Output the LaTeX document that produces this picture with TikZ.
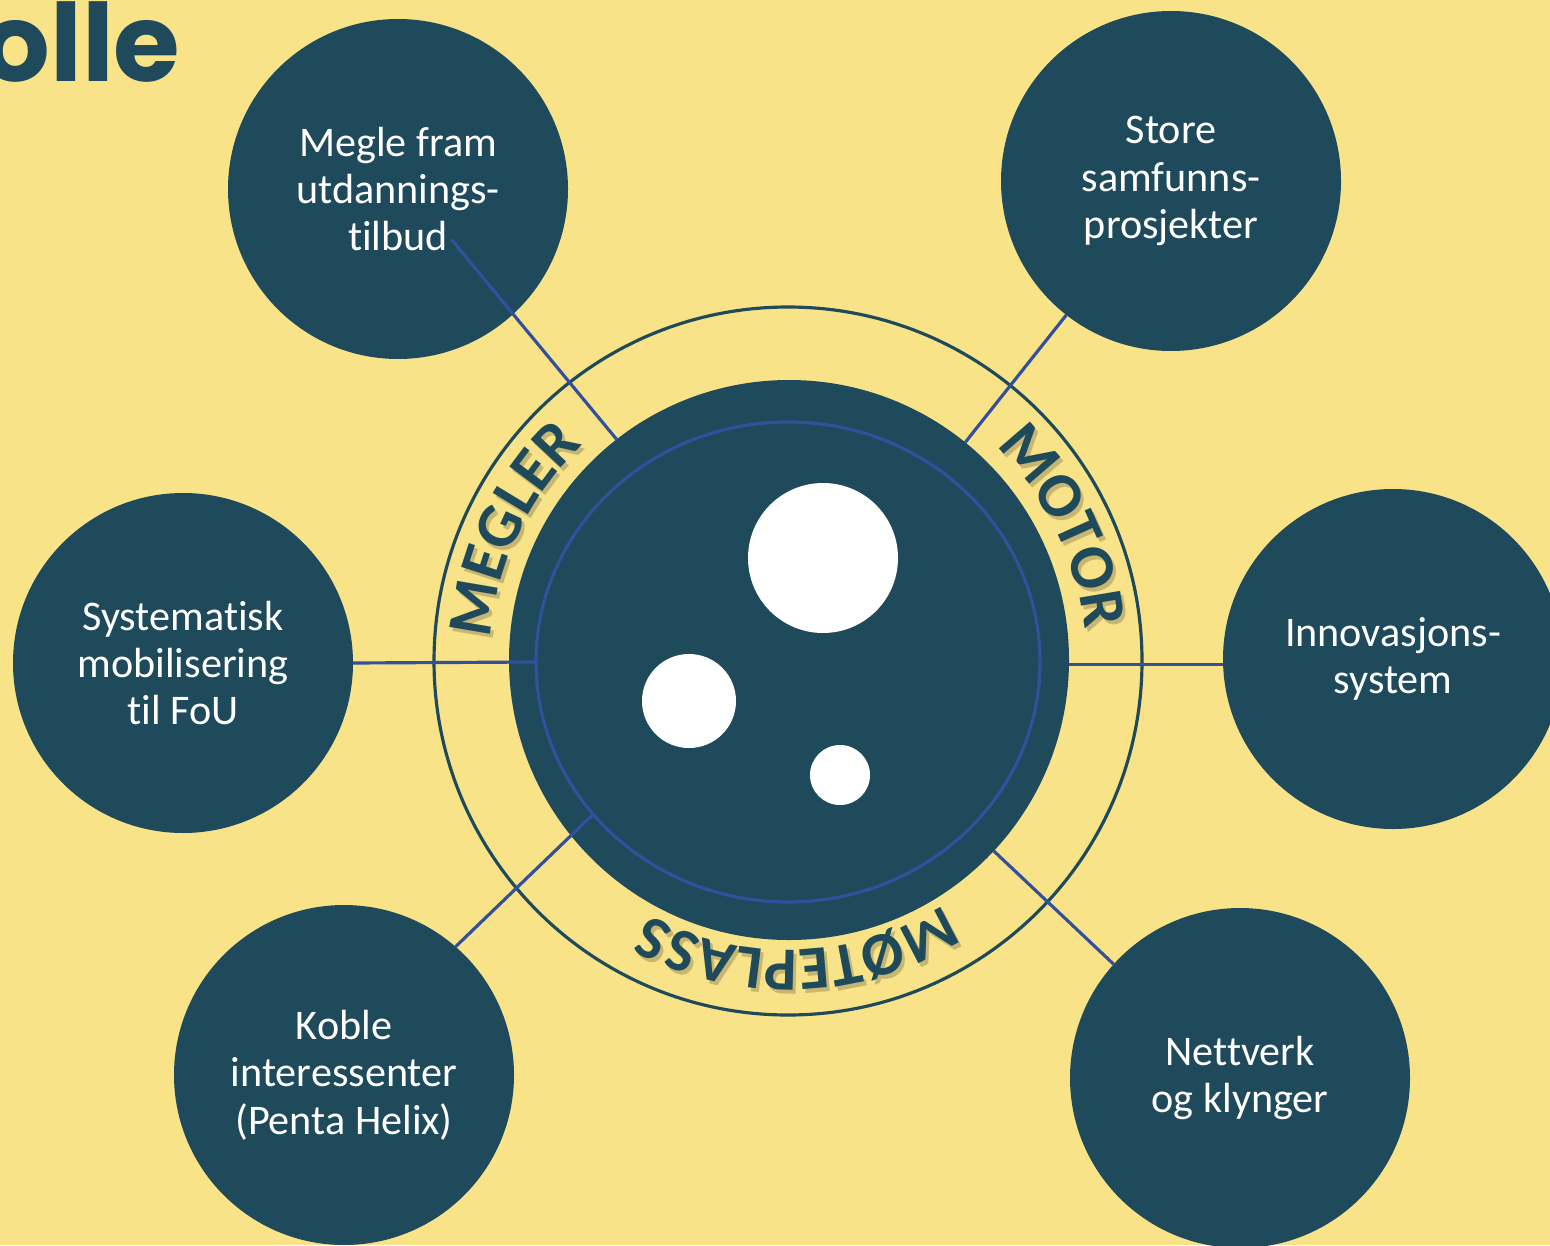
\documentclass[tikz,border=0pt]{standalone}
\usepackage{fontspec}
\setmainfont{Carlito}[Ligatures=NoCommon]
\newfontfamily\headfont{Poppins}
\usepackage{xcolor}
\usepackage{tikz}
\usetikzlibrary{shapes.geometric, decorations.text, calc}
\definecolor{sun}{RGB}{248,227,136}
\definecolor{deep}{RGB}{30,74,92}
\definecolor{wire}{RGB}{50,80,155}
\colorlet{shade-color}{black!80}
\tikzset{
    bubble/.style = {circle, fill=deep, text=white, minimum size=34mm,
        inner sep=0pt, outer sep=0pt, align=center,
        font=\fontsize{12}{13.5}\selectfont},
    spot/.style = {circle, fill=white, inner sep=0pt, outer sep=0pt},
    link/.style = {draw=wire, line width=0.9pt},
    arcword/.style n args = {3}{decorate, decoration={text along path,
        text align=center, text color=#1,
        text={|\fontsize{#3}{#3}\selectfont\bfseries|#2}}}
}

\begin{document}
\begin{tikzpicture}[x=0.1mm, y=0.1mm]
\useasboundingbox (0,0) rectangle (1550,1245);
\fill[sun] (0,0) rectangle (1550,1245);

%title
\node[anchor=base east, inner sep=0pt, text=deep, font=\headfont\bfseries\fontsize{30.7}{30}\selectfont] (title) at (181,1163) {olle};

%centre
\node[circle, draw=deep, line width=0.9pt, minimum size=70.8mm, inner sep=0pt, outer sep=0pt] (ring) at (788,584) {};
\node[circle, fill=deep, minimum size=56mm, inner sep=0pt, outer sep=0pt] (core) at (789,585) {};
\node[ellipse, draw=wire, line width=0.9pt, minimum width=50.4mm, minimum height=48mm, inner sep=0pt, outer sep=0pt] (rim) at (788,583) {};
\node[spot, minimum size=15mm] (big) at (823,687) {};
\node[spot, minimum size=9.4mm] (mid) at (689,544) {};
\node[spot, minimum size=6mm] (small) at (840,470) {};

%satellites
\node[bubble] (megle) at (398,1056) {Megle fram\\utdannings-\\tilbud};
\node[bubble] (store) at (1171,1064) {Store\\samfunns-\\prosjekter};
\node[bubble] (syst) at (183,582) {Systematisk\\mobilisering\\til FoU};
\node[bubble] (innov) at (1393,586) {Innovasjons-\\system};
\node[bubble] (koble) at (344,170) {Koble\\interessenter\\(Penta Helix)};
\node[bubble] (nett) at (1240,167) {Nettverk\\og klynger};

%links
\coordinate (mtip) at (451,1006);
\draw[link] (mtip) -- (core.128);
\draw[link] (store.232) -- (core.51);
\draw[link] (syst.east) -- (rim.west);
\draw[link] (core.-1.6) -- (core.-1.6 -| innov.west);
\draw[link] (koble.49) -- (rim.218.5);
\draw[link] (core.-43) -- (nett.138);

%shadow of the words
\begin{scope}[opacity=0.25, shift={(3,-4)}]
\path[arcword={shade-color}{MEGLER}{18}] (788,584) ++(184.5:298) arc[start angle=184.5, end angle=124.5, radius=298];
\path[arcword={shade-color}{MOTOR}{18}] (788,584) ++(56:298) arc[start angle=56, end angle=-4, radius=298];
\path[arcword={shade-color}{MØTEPLASS}{17.5}] (788,584) ++(-38:289) arc[start angle=-38, end angle=-138, radius=289];
\end{scope}

%words
\path[arcword={deep}{MEGLER}{18}] (788,584) ++(184.5:298) arc[start angle=184.5, end angle=124.5, radius=298];
\path[arcword={deep}{MOTOR}{18}] (788,584) ++(56:298) arc[start angle=56, end angle=-4, radius=298];
\path[arcword={deep}{MØTEPLASS}{17.5}] (788,584) ++(-38:289) arc[start angle=-38, end angle=-138, radius=289];
\end{tikzpicture}
\end{document}
